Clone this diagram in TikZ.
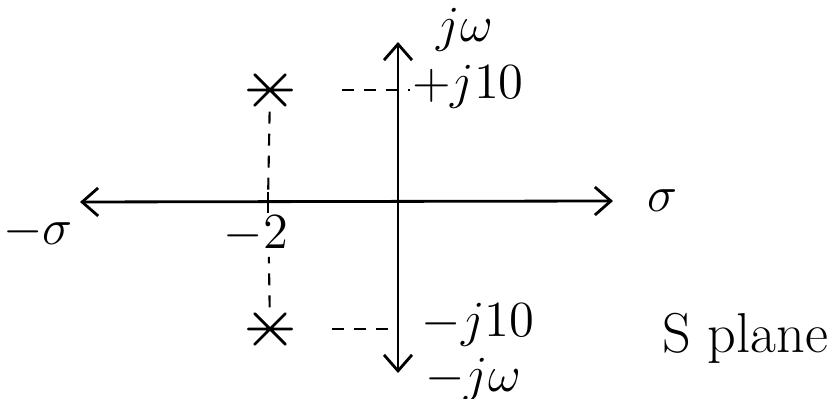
\documentclass[tikz,border=0pt]{standalone}
\usepackage{amsmath}
\usepackage{tikz}
\usetikzlibrary{arrows.meta,positioning}

\begin{document}
\begin{tikzpicture}[x=0.1mm, y=-0.1mm,
  >={Straight Barb[length=1.6mm, width=2.8mm]},
  axis/.style={draw, thick, <->},
  pole/.style={circle, minimum size=4.2mm, inner sep=0pt},
  star/.style={thick, line cap=round},
  guide/.style={draw, semithick, dash pattern=on 1.2mm off 1mm},
  lbl/.style={font=\fontsize{14}{16}\selectfont, inner sep=1pt}
]
\useasboundingbox (0,0) rectangle (831,399);

% axes of the s plane
\coordinate (top) at (398,42);
\coordinate (bot) at (398,373);
\coordinate (lft) at (80,202);
\coordinate (rgt) at (613,201);
\coordinate (m2) at (268,202);
\coordinate (p10) at (410,90);
\coordinate (n10) at (398,329);
\draw[axis] (bot) -- (top);
\draw[axis] (lft) -- (rgt);
\draw[thick] (m2) ++(0,-10) -- ++(0,21);

% poles at -2 +/- j10
\node[pole] (pu) at (270,90) {};
\node[pole] (pd) at (270,329) {};
\foreach \p in {pu,pd}
  \draw[star] (\p.135) -- (\p.-45) (\p.45) -- (\p.-135) (\p.180) -- (\p.0);
\draw[guide, shorten >=1mm] (pu) -- (m2);
\draw[guide, shorten >=5.5mm] (pd) -- (m2);
\draw[guide, shorten <=5mm] (pu) -- (p10);
\draw[guide, shorten <=4mm] (pd) -- (n10);

% labels
\node[lbl] (jw) at (465,30) {$j\omega$};
\node[lbl] (pj10) at (468,87) {$+j10$};
\node[lbl] (nsig) at (38,232) {$-\sigma$};
\node[lbl] (two) at (256,234) {$-2$};
\node[lbl] (nj10) at (478,325) {$-j10$};
\node[lbl] (njw) at (473,380) {$-j\omega$};
\node[lbl, right=3mm of rgt] (sig) {$\sigma$};
\node[lbl, font=\fontsize{16}{18}\selectfont] (splane) at (745,338) {S plane};
\end{tikzpicture}
\end{document}
